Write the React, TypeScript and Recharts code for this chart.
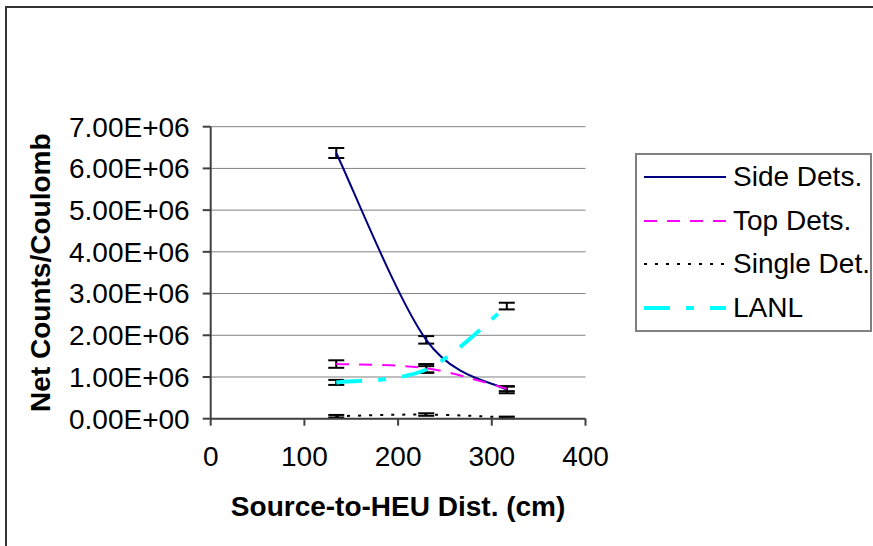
import React from 'react';
import { LineChart, Line, XAxis, YAxis, CartesianGrid, ErrorBar, Legend } from 'recharts';

const FONT = '"Liberation Sans", Arial, sans-serif';

// source-to-HEU distance (cm)
const distances = [134, 230, 316];

const sideDets = [6.37e6, 1.89e6, 0.69e6];
const sideErr = [0.12e6, 0.09e6, 0.08e6];
const topDets = [1.31e6, 1.21e6, 0.72e6];
const topErr = [0.09e6, 0.1e6, 0.06e6];
const singleDet = [0.06e6, 0.1e6, 0.03e6];
const singleErr = [0.03e6, 0.03e6, 0.02e6];
const lanl = [0.87e6, 1.18e6, 2.7e6];
const lanlErr = [0.06e6, 0.08e6, 0.08e6];

const xTicks = [0, 100, 200, 300, 400];
const yTicks = [0, 1e6, 2e6, 3e6, 4e6, 5e6, 6e6, 7e6];

const series = [
  { key: 'side', err: 'sideErr', name: 'Side Dets.', color: '#000080', width: 2, dash: undefined as string | undefined },
  { key: 'top', err: 'topErr', name: 'Top Dets.', color: '#FF00FF', width: 2, dash: '13 10' },
  { key: 'single', err: 'singleErr', name: 'Single Det.', color: '#000000', width: 2, dash: '3 8' },
  { key: 'lanl', err: 'lanlErr', name: 'LANL', color: '#00FFFF', width: 4, dash: '26 16 8 16' },
];

const data = distances.map((d, i) => ({
  dist: d,
  side: sideDets[i],
  sideErr: sideErr[i],
  top: topDets[i],
  topErr: topErr[i],
  single: singleDet[i],
  singleErr: singleErr[i],
  lanl: lanl[i],
  lanlErr: lanlErr[i],
}));

// like Excel's smoothed line: bezier segments through every point
const smoothCurve = (context: any) => {
  let pts: number[][] = [];
  return {
    areaStart() {},
    areaEnd() {},
    lineStart() {
      pts = [];
    },
    point(x: number, y: number) {
      pts.push([+x, +y]);
    },
    lineEnd() {
      if (!pts.length) return;
      context.moveTo(pts[0][0], pts[0][1]);
      for (let i = 0; i < pts.length - 1; i++) {
        const p0 = pts[Math.max(i - 1, 0)];
        const p1 = pts[i];
        const p2 = pts[i + 1];
        const p3 = pts[Math.min(i + 2, pts.length - 1)];
        context.bezierCurveTo(
          p1[0] + (p2[0] - p0[0]) / 6,
          p1[1] + (p2[1] - p0[1]) / 6,
          p2[0] - (p3[0] - p1[0]) / 6,
          p2[1] - (p3[1] - p1[1]) / 6,
          p2[0],
          p2[1]
        );
      }
    },
  };
};

const sci = (v: number) => {
  if (v === 0) return '0.00E+00';
  const e = Math.floor(Math.log10(Math.abs(v)));
  const m = v / Math.pow(10, e);
  return `${m.toFixed(2)}E${e < 0 ? '-' : '+'}${String(Math.abs(e)).padStart(2, '0')}`;
};

const LegendBox = () => (
  <div
    style={{
      position: 'relative',
      width: 237,
      height: 179,
      boxSizing: 'border-box',
      border: '2px solid #808080',
      background: '#fff',
      fontFamily: FONT,
      fontSize: 28,
      color: '#000',
    }}
  >
    {series.map((s, i) => (
      <div
        key={s.key}
        style={{ position: 'absolute', left: 7, top: 2 + i * 43.7, height: 40, display: 'flex', alignItems: 'center' }}
      >
        <svg width={84} height={10}>
          <line x1={0} y1={5} x2={82} y2={5} stroke={s.color} strokeWidth={s.width} strokeDasharray={s.dash} />
        </svg>
        <span style={{ marginLeft: 5, lineHeight: '40px', whiteSpace: 'nowrap' }}>{s.name}</span>
      </div>
    ))}
  </div>
);

export default function App() {
  return (
    <div
      style={{ position: 'absolute', left: 0, top: 0, width: 873, height: 546, overflow: 'hidden', background: '#fff' }}
    >
      <div
        style={{ position: 'absolute', left: 5, top: 6, width: 900, height: 600, border: '2px solid #333', boxSizing: 'border-box' }}
      />
      <LineChart
        width={873}
        height={546}
        data={data}
        margin={{ top: 126.7, right: 287.5, bottom: 27.3, left: 20.7 }}
        style={{ position: 'absolute', left: 0, top: 0 }}
      >
        <CartesianGrid vertical={false} stroke="#808080" strokeWidth={1} />
        <XAxis
          dataKey="dist"
          type="number"
          domain={[0, 400]}
          ticks={xTicks}
          height={100}
          tickSize={7}
          tickMargin={20}
          stroke="#404040"
          strokeWidth={2}
          tick={{ fill: '#000', fontSize: 28, fontFamily: FONT }}
          label={{
            value: 'Source-to-HEU Dist. (cm)',
            position: 'insideBottom',
            offset: 3,
            style: { fontFamily: FONT, fontSize: 28, fontWeight: 'bold', fill: '#000' },
          }}
        />
        <YAxis
          type="number"
          domain={[0, 7e6]}
          ticks={yTicks}
          width={190}
          tickSize={8}
          tickMargin={13}
          stroke="#404040"
          strokeWidth={2}
          tickFormatter={sci}
          tick={{ fill: '#000', fontSize: 28, fontFamily: FONT }}
          label={{
            value: 'Net Counts/Coulomb',
            angle: -90,
            position: 'insideLeft',
            offset: 19,
            style: { fontFamily: FONT, fontSize: 28, fontWeight: 'bold', fill: '#000', textAnchor: 'middle' },
          }}
        />
        <Legend
          layout="vertical"
          align="center"
          verticalAlign="middle"
          content={() => <LegendBox />}
          wrapperStyle={{ left: 635, top: 153, width: 237, height: 179 }}
        />
        {series.map((s) => (
          <Line
            key={s.key}
            dataKey={s.key}
            name={s.name}
            type={smoothCurve as any}
            stroke={s.color}
            strokeWidth={s.width}
            strokeDasharray={s.dash}
            dot={false}
            activeDot={false}
            isAnimationActive={false}
          >
            <ErrorBar
              dataKey={s.err}
              direction="y"
              width={8}
              stroke="#000"
              strokeWidth={2}
              isAnimationActive={false}
            />
          </Line>
        ))}
      </LineChart>
    </div>
  );
}
